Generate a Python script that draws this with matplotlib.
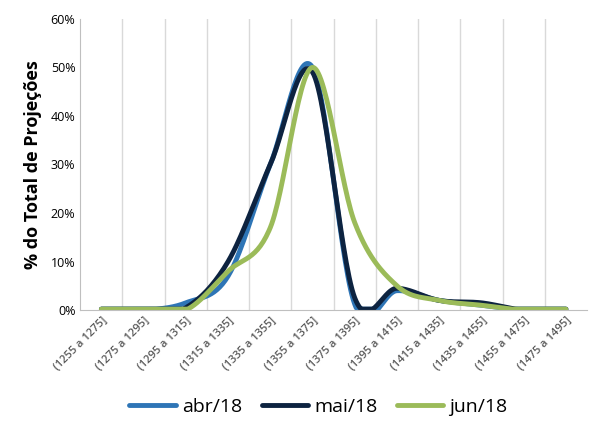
import numpy as np
import matplotlib
matplotlib.use("Agg")
import matplotlib.pyplot as plt
import matplotlib.ticker as ticker

plt.rcParams["font.family"] = ["Open Sans", "DejaVu Sans"]

categories = ["(1255 a 1275]", "(1275 a 1295]", "(1295 a 1315]", "(1315 a 1335]",
              "(1335 a 1355]", "(1355 a 1375]", "(1375 a 1395]", "(1395 a 1415]",
              "(1415 a 1435]", "(1435 a 1455]", "(1455 a 1475]", "(1475 a 1495]"]
abr = [0, 0, 1.5, 7, 30, 50, 1.2, 4, 2, 1, 0, 0]
mai = [0, 0, 0.5, 10, 30, 49, 2.5, 4.5, 2, 1.5, 0, 0]
jun = [0, 0, 0, 8, 17, 50, 18, 5, 2, 1, 0, 0]
series = [("abr/18", abr, "#2e75b6"), ("mai/18", mai, "#0d2340"), ("jun/18", jun, "#9bbb59")]


def smooth(y, n=30):
    # Catmull-Rom curve like Excel's smoothed line
    y = np.asarray(y, float)
    p = np.concatenate([[y[0]], y, [y[-1]]])
    xs, ys = [], []
    for i in range(len(y) - 1):
        p0, p1, p2, p3 = p[i], p[i + 1], p[i + 2], p[i + 3]
        t = np.linspace(0, 1, n, endpoint=False)
        v = 0.5 * (2 * p1 + (-p0 + p2) * t + (2 * p0 - 5 * p1 + 4 * p2 - p3) * t ** 2
                   + (-p0 + 3 * p1 - 3 * p2 + p3) * t ** 3)
        xs.append(i + t)
        ys.append(v)
    xs.append([len(y) - 1])
    ys.append([y[-1]])
    return np.concatenate(xs), np.clip(np.concatenate(ys), 0.2, None)


fig, ax = plt.subplots(figsize=(5.9, 4.38), dpi=100)
for name, vals, col in series:
    x, y = smooth(vals)
    ax.plot(x, y, color=col, linewidth=3.5, label=name, solid_capstyle="round")

ax.set_xlim(-0.5, len(categories) - 0.5)
ax.set_ylim(0, 60)
ax.yaxis.set_major_locator(ticker.MultipleLocator(10))
ax.yaxis.set_major_formatter(ticker.FuncFormatter(lambda v, _: f"{v:.0f}%"))
ax.set_xticks(range(len(categories)))
ax.set_xticklabels(categories, rotation=45, ha="right", fontsize=8, color="#595959",
                   rotation_mode="anchor", fontweight="semibold")
ax.set_xticks(np.arange(0.5, len(categories) - 1, 1), minor=True)
ax.tick_params(axis="y", labelsize=9, length=0)
ax.tick_params(axis="x", which="both", length=0)
ax.grid(True, axis="x", which="minor", color="#d9d9d9", linewidth=1)
for s in ["top", "right"]:
    ax.spines[s].set_visible(False)
ax.spines["left"].set_color("#bfbfbf")
ax.spines["bottom"].set_color("#bfbfbf")
ax.set_ylabel("% do Total de Projeções", fontsize=13, fontweight="bold", labelpad=6)
ax.legend(loc="upper center", bbox_to_anchor=(0.47, -0.24), ncol=3, frameon=False,
          fontsize=14, handlelength=2.4, columnspacing=1.0, handletextpad=0.3)
fig.subplots_adjust(left=0.136, right=0.995, top=0.957, bottom=0.292)
fig.savefig("out.png", dpi=100)
